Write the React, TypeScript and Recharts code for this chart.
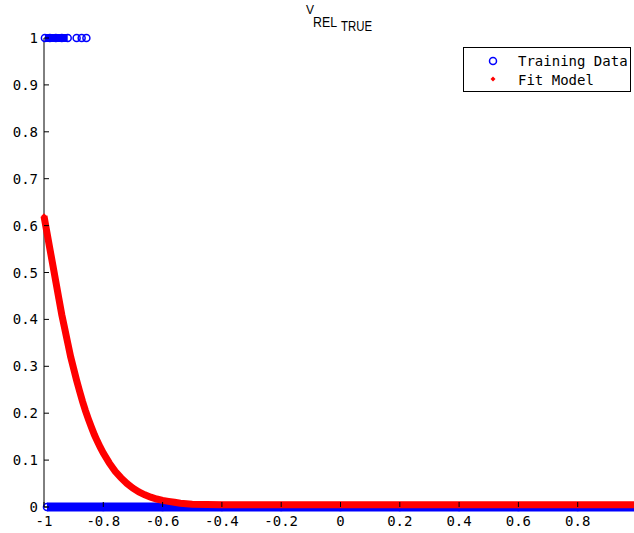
import { ScatterChart, Scatter, XAxis, YAxis, Legend, Customized } from "recharts";

const xTicks = [-1, -0.8, -0.6, -0.4, -0.2, 0, 0.2, 0.4, 0.6, 0.8, 1];
const yTicks = [0, 0.1, 0.2, 0.3, 0.4, 0.5, 0.6, 0.7, 0.8, 0.9, 1];

// training samples labelled 0 (a dense run along the bottom)
const trainZeroX = [-0.99, -0.8, -0.6, -0.4, -0.2, 0, 0.2, 0.4, 0.6, 0.8, 1];
// training samples labelled 1, packed at the left end
const trainOneDenseX = [-0.997, -0.98, -0.96, -0.94, -0.92];
const trainOneSparseX = [-0.89, -0.873, -0.857];

// fitted model output
const fitX = [
  -1, -0.99, -0.98, -0.97, -0.96, -0.95, -0.94, -0.93, -0.92, -0.91, -0.9,
  -0.89, -0.88, -0.87, -0.86, -0.85, -0.84, -0.83, -0.82, -0.81, -0.8, -0.78,
  -0.76, -0.74, -0.72, -0.7, -0.68, -0.66, -0.64, -0.62, -0.6, -0.58, -0.56,
  -0.54, -0.52, -0.5, -0.45, -0.4, -0.2, 0, 0.2, 0.4, 0.6, 0.8, 1,
];
const fitY = [
  0.62, 0.585, 0.55, 0.515, 0.48, 0.445, 0.41, 0.38, 0.35, 0.32, 0.295,
  0.27, 0.247, 0.225, 0.205, 0.187, 0.17, 0.154, 0.14, 0.127, 0.115, 0.094,
  0.076, 0.062, 0.05, 0.04, 0.032, 0.026, 0.021, 0.017, 0.014, 0.012, 0.01,
  0.008, 0.007, 0.006, 0.0055, 0.005, 0.005, 0.005, 0.005, 0.005, 0.005,
  0.005, 0.005,
];

const zeroData = trainZeroX.map((x) => ({ x, y: 0 }));
const oneDenseData = trainOneDenseX.map((x) => ({ x, y: 1 }));
const oneSparseData = trainOneSparseX.map((x) => ({ x, y: 1 }));
const fitData = fitX.map((x, i) => ({ x, y: fitY[i] }));

const BLUE = "#0000ff";
const RED = "#ff0000";
const MONO = "'DejaVu Sans Mono', monospace";

const Ring = (props: any) => (
  <circle cx={props.cx} cy={props.cy} r={3.5} fill="none" stroke={BLUE} strokeWidth={1.5} />
);

const Dot = (props: any) => (
  <path
    d={`M${props.cx},${props.cy - 3}L${props.cx + 3},${props.cy}L${props.cx},${props.cy + 3}L${props.cx - 3},${props.cy}Z`}
    fill={RED}
  />
);

// ticks point inwards, matlab style
const BottomTick = ({ x, y, payload }: any) => (
  <g>
    <line x1={x} y1={y} x2={x} y2={y - 5} stroke="#000" />
    {payload.value < 1 && (
      <text x={x} y={y + 19} textAnchor="middle" fontFamily={MONO} fontSize={14} fill="#000">
        {String(payload.value)}
      </text>
    )}
  </g>
);

const TopTick = ({ x, y }: any) => <line x1={x} y1={y} x2={x} y2={y + 5} stroke="#000" />;

const LeftTick = ({ x, y, payload }: any) => (
  <g>
    <line x1={x} y1={y} x2={x + 5} y2={y} stroke="#000" />
    <text x={x - 6} y={y + 5} textAnchor="end" fontFamily={MONO} fontSize={14} fill="#000">
      {String(payload.value)}
    </text>
  </g>
);

const RightTick = ({ x, y }: any) => <line x1={x} y1={y} x2={x - 5} y2={y} stroke="#000" />;

// V_{REL_{TRUE}} with nested subscripts
const Title = () => (
  <text x={306} y={14} fontFamily="'Liberation Sans', Arial, sans-serif" fill="#000">
    <tspan fontSize={12}>V</tspan>
    <tspan x={313} y={27} fontSize={15} textLength={24} lengthAdjust="spacingAndGlyphs">
      REL
    </tspan>
    <tspan x={341} y={31} fontSize={15} textLength={31} lengthAdjust="spacingAndGlyphs">
      TRUE
    </tspan>
  </text>
);

const renderLegend = () => (
  <svg width={168} height={45} style={{ display: "block" }}>
    <rect x={0.5} y={0.5} width={167} height={44} fill="#fff" stroke="#000" />
    <circle cx={30} cy={14} r={3.5} fill="none" stroke={BLUE} strokeWidth={1.5} />
    <path d="M30,29.5L32.5,32L30,34.5L27.5,32Z" fill={RED} />
    <text x={55} y={19} fontFamily={MONO} fontSize={14} fill="#000">
      Training Data
    </text>
    <text x={55} y={38} fontFamily={MONO} fontSize={14} fill="#000">
      Fit Model
    </text>
  </svg>
);

export default function App() {
  return (
    <div
      style={{
        position: "absolute",
        left: 0,
        top: 0,
        width: 634,
        height: 533,
        overflow: "hidden",
        background: "#fff",
      }}
    >
      <ScatterChart width={660} height={533} margin={{ top: 38, right: 23, bottom: 0, left: 4 }}>
        <XAxis
          xAxisId="bottom"
          type="number"
          dataKey="x"
          domain={[-1, 1]}
          ticks={xTicks}
          interval={0}
          height={26}
          tickSize={0}
          tickMargin={0}
          tickLine={false}
          axisLine={{ stroke: "#000" }}
          tick={<BottomTick />}
        />
        <XAxis
          xAxisId="top"
          orientation="top"
          type="number"
          dataKey="x"
          domain={[-1, 1]}
          ticks={xTicks}
          interval={0}
          height={0}
          tickSize={0}
          tickMargin={0}
          tickLine={false}
          axisLine={{ stroke: "#000" }}
          tick={<TopTick />}
        />
        <YAxis
          yAxisId="left"
          type="number"
          dataKey="y"
          domain={[0, 1]}
          ticks={yTicks}
          interval={0}
          width={40}
          tickSize={0}
          tickMargin={0}
          tickLine={false}
          axisLine={{ stroke: "#000" }}
          tick={<LeftTick />}
        />
        <YAxis
          yAxisId="right"
          orientation="right"
          type="number"
          dataKey="y"
          domain={[0, 1]}
          ticks={yTicks}
          interval={0}
          width={0}
          tickSize={0}
          tickMargin={0}
          tickLine={false}
          axisLine={{ stroke: "#000" }}
          tick={<RightTick />}
        />
        <Legend
          layout="horizontal"
          verticalAlign="middle"
          align="center"
          content={renderLegend}
          wrapperStyle={{ left: 463, top: 47, width: 168, height: 45 }}
        />
        <Scatter
          name="Training Data"
          data={zeroData}
          xAxisId="bottom"
          yAxisId="left"
          line={{ stroke: BLUE, strokeWidth: 9 }}
          shape={<Ring />}
          isAnimationActive={false}
        />
        <Scatter
          name="Training Data (1)"
          data={oneDenseData}
          xAxisId="bottom"
          yAxisId="left"
          line={{ stroke: BLUE, strokeWidth: 8 }}
          shape={<Ring />}
          legendType="none"
          isAnimationActive={false}
        />
        <Scatter
          name="Training Data (1, sparse)"
          data={oneSparseData}
          xAxisId="bottom"
          yAxisId="left"
          shape={<Ring />}
          legendType="none"
          isAnimationActive={false}
        />
        <Scatter
          name="Fit Model"
          data={fitData}
          xAxisId="bottom"
          yAxisId="left"
          line={{ stroke: RED, strokeWidth: 7 }}
          shape={<Dot />}
          isAnimationActive={false}
        />
        <Customized component={Title} />
      </ScatterChart>
    </div>
  );
}
